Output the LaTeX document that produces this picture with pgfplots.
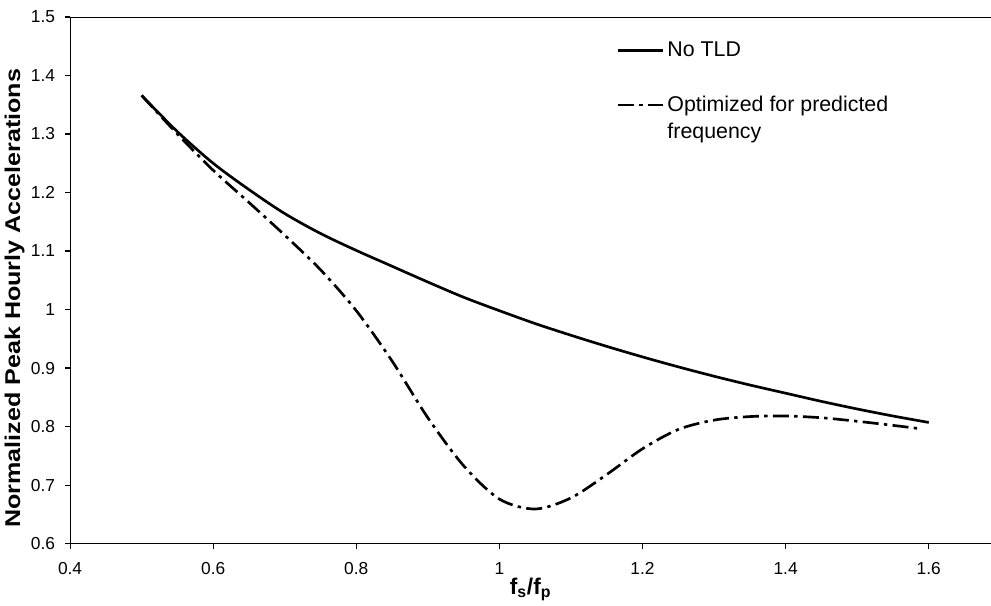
\documentclass[border=0pt]{standalone}
\usepackage{fontspec}
\setmainfont{Liberation Sans}
\usepackage{graphicx}
\usepackage{pgfplots}
\pgfplotsset{compat=1.18}
\pgfplotsset{uplegend/.style={legend image code/.code={\draw[##1] (0pt,10pt) -- (34pt,10pt);}}}

\begin{document}
\begin{tikzpicture}
\begin{axis}[
  scale only axis, width=690pt, height=394.5pt,
  xmin=0.4, xmax=1.687, ymin=0.6, ymax=1.5,
  xtick={0.4,0.6,0.8,1,1.2,1.4,1.6},
  ytick={0.6,0.7,0.8,0.9,1,1.1,1.2,1.3,1.4,1.5},
  axis x line*=bottom, axis y line*=left,
  tick align=outside, major tick length=3.75pt,
  axis line style={black, line width=0.8pt},
  tick style={black, line width=0.8pt},
  /pgf/number format/assume math mode=true,
  /pgf/number format/fixed, /pgf/number format/precision=1,
  ticklabel style={font=\fontsize{13}{15}\selectfont},
  yticklabel style={xshift=-4pt},
  xticklabel style={yshift=-7pt},
  xlabel={\bfseries f\textsubscript{s}/f\textsubscript{p}},
  xlabel style={at={(axis description cs:0.5,0)}, anchor=base, yshift=-38pt, font=\fontsize{17}{20}\selectfont},
  ylabel={\scalebox{1.175}[1]{\bfseries Normalized Peak Hourly Accelerations}},
  ylabel style={at={(axis description cs:-0.0603,0.466)}, anchor=center, font=\fontsize{16}{18}\selectfont},
  legend style={draw=none, fill=none, at={(axis description cs:0.589,0.963)}, anchor=north west,
    font=\fontsize{16}{20}\selectfont, cells={anchor=west, align=left}, row sep=24pt},
  legend cell align=left,
  legend image code/.code={\draw[#1] (0pt,0pt) -- (34pt,0pt);},
]
\addplot[black, line width=2pt, smooth] coordinates {
(0.50,1.366) (0.55,1.304) (0.60,1.250) (0.65,1.205) (0.70,1.164) (0.75,1.130)
(0.80,1.101) (0.85,1.074) (0.90,1.047) (0.95,1.021) (1.00,0.998) (1.05,0.976)
(1.10,0.956) (1.15,0.937) (1.20,0.919) (1.25,0.902) (1.30,0.886) (1.35,0.871)
(1.40,0.857) (1.45,0.843) (1.50,0.830) (1.55,0.818) (1.60,0.807)
};
\addlegendentry{No TLD}
\addplot[black, line width=2pt, smooth, dash pattern=on 12pt off 4pt on 2.5pt off 4pt, uplegend] coordinates {
(0.50,1.366) (0.55,1.300) (0.60,1.238) (0.65,1.183) (0.70,1.127) (0.75,1.068)
(0.80,0.998) (0.85,0.912) (0.90,0.815) (0.95,0.733) (1.00,0.676) (1.05,0.659)
(1.10,0.678) (1.15,0.718) (1.20,0.762) (1.25,0.795) (1.30,0.811) (1.35,0.817)
(1.40,0.818) (1.45,0.815) (1.50,0.809) (1.55,0.802) (1.59,0.796)
};
\addlegendentry{Optimized for predicted\\frequency}
\draw[black, line width=0.8pt] (rel axis cs:0,1) -- (rel axis cs:1,1);
\end{axis}
\pgfresetboundingbox
\path (current axis.south west) ++(-52.5pt,-46.5pt) rectangle ([yshift=12.75pt]current axis.north east);
\end{tikzpicture}
\end{document}
